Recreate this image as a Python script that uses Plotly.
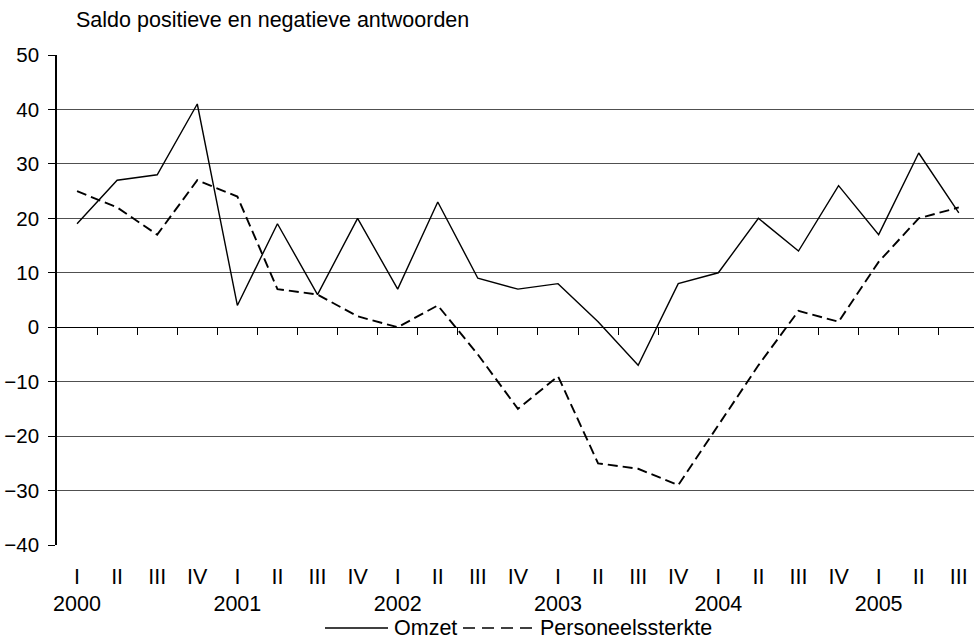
import plotly.graph_objects as go

quarters = ["I", "II", "III", "IV"] * 5 + ["I", "II", "III"]
years = ["2000", "2001", "2002", "2003", "2004", "2005"]
omzet = [19, 27, 28, 41, 4, 19, 6, 20, 7, 23, 9, 7, 8, 1, -7, 8, 10, 20, 14, 26, 17, 32, 21]
personeelssterkte = [25, 22, 17, 27, 24, 7, 6, 2, 0, 4, -5, -15, -9, -25, -26, -29, -18, -7, 3, 1, 12, 20, 22]

n = len(quarters)
idx = list(range(n))
ticktext = []
for i, q in enumerate(quarters):
    if i % 4 == 0:
        ticktext.append(q + "<br>" + years[i // 4])
    else:
        ticktext.append(q)
boundaries = [i + 0.5 for i in range(n - 1)]

FONT = "Liberation Sans, Arial, sans-serif"
FS = 21.5
FSY = 20.5
W, H = 974, 641
L, R, T = 57, 0, 55
B = H - 545
pw = W - L - R
ph = H - T - B
xr = [-0.5, -0.5 + pw / 40.08]

def px_x(p):
    return (p - L) / pw

def px_y(p):
    return (H - B - p) / ph

fig = go.Figure()
fig.add_trace(go.Scatter(x=idx, y=omzet, mode="lines", name="Omzet",
                         line=dict(color="black", width=1.4), showlegend=False, hoverinfo="skip"))
fig.add_trace(go.Scatter(x=idx, y=personeelssterkte, mode="lines", name="Personeelssterkte",
                         line=dict(color="black", width=1.9, dash="10px,5px"), showlegend=False, hoverinfo="skip"))
fig.add_trace(go.Scatter(x=[0], y=[None], xaxis="x2", mode="lines", showlegend=False, hoverinfo="skip"))

fig.update_layout(
    width=W, height=H, autosize=False,
    margin=dict(l=L, r=R, t=T, b=B, pad=0),
    paper_bgcolor="white", plot_bgcolor="white",
    font=dict(family=FONT, size=FS, color="black"),
    showlegend=False,
    title=dict(text="Saldo positieve en negatieve antwoorden", xref="container", yref="container",
               x=76 / W, y=1 - 19 / H, xanchor="left", yanchor="middle",
               font=dict(family=FONT, size=FS, color="black")),
    xaxis=dict(range=xr, tickmode="array", tickvals=idx, ticktext=ticktext,
               ticks="", showline=False, showgrid=False, zeroline=False,
               ticklabelstandoff=16, automargin=False,
               tickfont=dict(family=FONT, size=FS, color="black")),
    xaxis2=dict(range=xr, overlaying="x", anchor="free", position=40 / 90, side="bottom",
                tickmode="array", tickvals=boundaries, ticks="outside", ticklen=7,
                tickcolor="black", tickwidth=1, showticklabels=False,
                showline=True, linecolor="black", linewidth=1, showgrid=False, zeroline=False),
    yaxis=dict(range=[-40, 50], tickmode="linear", tick0=-40, dtick=10,
               showgrid=True, gridcolor="#505050", gridwidth=1, zeroline=False,
               showline=True, linecolor="black", linewidth=1.5,
               ticks="outside", ticklen=7, tickcolor="black", tickwidth=1,
               ticklabelstandoff=5, automargin=False,
               tickfont=dict(family=FONT, size=FSY, color="black")),
)

# legend (drawn manually to match the long line samples)
ly = px_y(628)
fig.add_shape(type="line", xref="paper", yref="paper", x0=px_x(325), x1=px_x(388), y0=ly, y1=ly,
              line=dict(color="black", width=1.4))
fig.add_shape(type="line", xref="paper", yref="paper", x0=px_x(463), x1=px_x(536), y0=ly, y1=ly,
              line=dict(color="black", width=1.5, dash="12px,7px"))
fig.add_annotation(text="Omzet", xref="paper", yref="paper", x=px_x(392), y=ly,
                   xanchor="left", yanchor="middle", showarrow=False,
                   font=dict(family=FONT, size=FS, color="black"))
fig.add_annotation(text="Personeelssterkte", xref="paper", yref="paper", x=px_x(538), y=ly,
                   xanchor="left", yanchor="middle", showarrow=False,
                   font=dict(family=FONT, size=FS, color="black"))

fig.write_html("out.html", config={"displayModeBar": False},
               post_script="document.body.style.margin='0px';")
